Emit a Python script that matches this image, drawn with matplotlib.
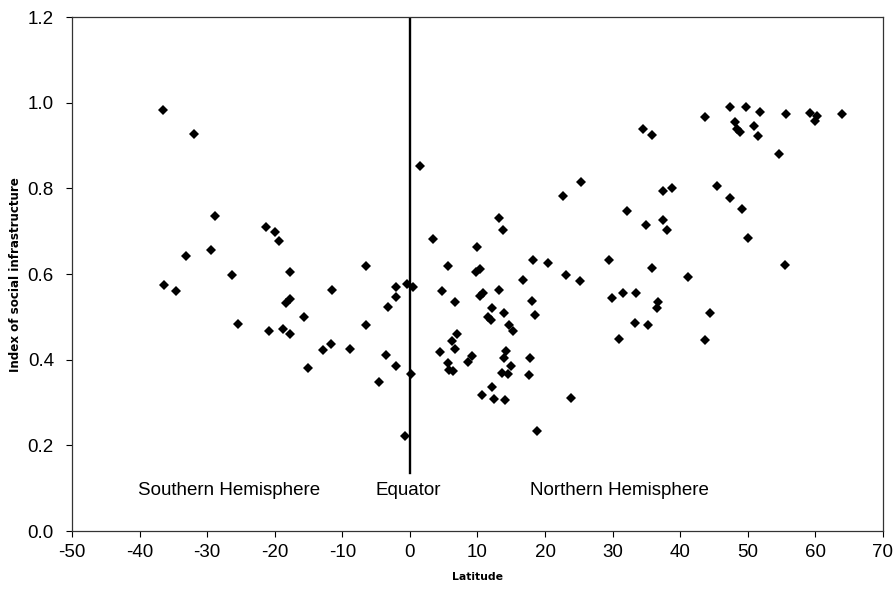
import matplotlib
matplotlib.use("Agg")
import matplotlib.pyplot as plt

plt.rcParams["font.family"] = ["Liberation Sans", "DejaVu Sans"]

# latitude (degrees) and index of social infrastructure
lat_south = [-36.6, -31.9, -28.8, -21.3, -20.0, -19.3, -29.4, -33.2, -26.3, -17.7,
             -6.5, -36.4, -34.6, -11.6, -2.0, -0.4, -2.1, -3.3, -18.3, -17.7,
             -15.7, -25.4, -6.5, -20.8, -18.8, -17.8, -11.7, -12.8, -8.8, -3.6,
             -2.0, -15.1, -4.6, -0.7]
idx_south = [0.983, 0.927, 0.735, 0.709, 0.699, 0.677, 0.657, 0.642, 0.598, 0.606,
             0.619, 0.575, 0.560, 0.562, 0.569, 0.576, 0.546, 0.523, 0.533, 0.541,
             0.499, 0.483, 0.480, 0.466, 0.472, 0.460, 0.436, 0.422, 0.424, 0.412,
             0.385, 0.380, 0.348, 0.222]

lat_tropics = [0.2, 1.5, 3.4, 13.2, 13.8, 22.7, 25.3, 10.0, 5.6, 9.8,
               10.4, 18.2, 20.4, 23.1, 25.2, 16.8, 0.4, 4.8, 6.7, 10.4,
               10.8, 13.2, 18.0, 12.2, 13.9, 11.5, 12.0, 18.5, 14.7, 15.2,
               6.9, 6.2, 6.6, 4.4, 5.6, 5.8, 6.4, 8.6, 9.2, 14.2,
               13.9, 15.0, 13.7, 14.5, 17.8, 17.6, 12.2, 10.6, 12.4, 14.0,
               23.8, 18.8]
idx_tropics = [0.366, 0.853, 0.681, 0.732, 0.704, 0.783, 0.815, 0.663, 0.620, 0.605,
               0.611, 0.633, 0.626, 0.598, 0.585, 0.586, 0.570, 0.560, 0.534, 0.549,
               0.557, 0.562, 0.538, 0.520, 0.508, 0.500, 0.492, 0.504, 0.482, 0.466,
               0.459, 0.443, 0.425, 0.418, 0.392, 0.376, 0.373, 0.395, 0.408, 0.421,
               0.405, 0.386, 0.369, 0.367, 0.403, 0.364, 0.337, 0.317, 0.308, 0.305,
               0.310, 0.233]

lat_north = [47.4, 49.7, 51.8, 55.7, 59.2, 60.2, 60.0, 63.9, 43.7, 48.1,
             48.4, 48.9, 50.9, 51.5, 34.5, 35.8, 54.6, 37.4, 38.8, 45.4,
             47.4, 49.1, 32.1, 37.5, 35.0, 38.0, 50.1, 29.5, 35.8, 55.5,
             41.1, 29.9, 31.5, 33.5, 36.7, 36.6, 44.4, 33.3, 35.3, 31.0,
             43.6]
idx_north = [0.990, 0.990, 0.978, 0.974, 0.977, 0.970, 0.958, 0.975, 0.968, 0.955,
             0.939, 0.931, 0.945, 0.923, 0.939, 0.924, 0.880, 0.793, 0.802, 0.806,
             0.778, 0.753, 0.748, 0.727, 0.715, 0.703, 0.685, 0.632, 0.614, 0.622,
             0.593, 0.544, 0.555, 0.556, 0.534, 0.521, 0.509, 0.485, 0.480, 0.448,
             0.446]

x_ticks = list(range(-50, 71, 10))
y_ticks = [0.0, 0.2, 0.4, 0.6, 0.8, 1.0, 1.2]

fig = plt.figure(figsize=(8.96, 5.92), dpi=100)
ax = fig.add_axes([0.0804, 0.103, 0.905, 0.868])

for xs, ys in [(lat_south, idx_south), (lat_tropics, idx_tropics), (lat_north, idx_north)]:
    ax.plot(xs, ys, linestyle="none", marker="D", markersize=4.8,
            color="black", markeredgewidth=0)

# equator line
ax.plot([0, 0], [0.135, 1.2], color="black", linewidth=1.7)

ax.text(-40.3, 0.095, "Southern Hemisphere", fontsize=13.5, ha="left", va="center")
ax.text(-0.3, 0.095, "Equator", fontsize=13.5, ha="center", va="center")
ax.text(31, 0.095, "Northern Hemisphere", fontsize=13.5, ha="center", va="center")

ax.set_xlim(-50, 70)
ax.set_ylim(0, 1.2)
ax.set_xticks(x_ticks)
ax.set_xticklabels([str(t) for t in x_ticks])
ax.set_yticks(y_ticks)
ax.set_yticklabels([f"{t:.1f}" for t in y_ticks])
ax.tick_params(axis="both", labelsize=13.5, direction="out", length=4, width=0.8,
               colors="black")
ax.tick_params(axis="x", pad=5)
ax.tick_params(axis="y", pad=9)
for s in ax.spines.values():
    s.set_linewidth(0.9)
    s.set_color("#333333")

ax.set_xlabel("Latitude", fontsize=7.8, fontweight="bold", labelpad=8,
              family="DejaVu Sans")
ax.set_ylabel("Index of social infrastructure", fontsize=8.6, fontweight="bold",
              labelpad=4, family="DejaVu Sans")

fig.savefig("out.png", dpi=100)
